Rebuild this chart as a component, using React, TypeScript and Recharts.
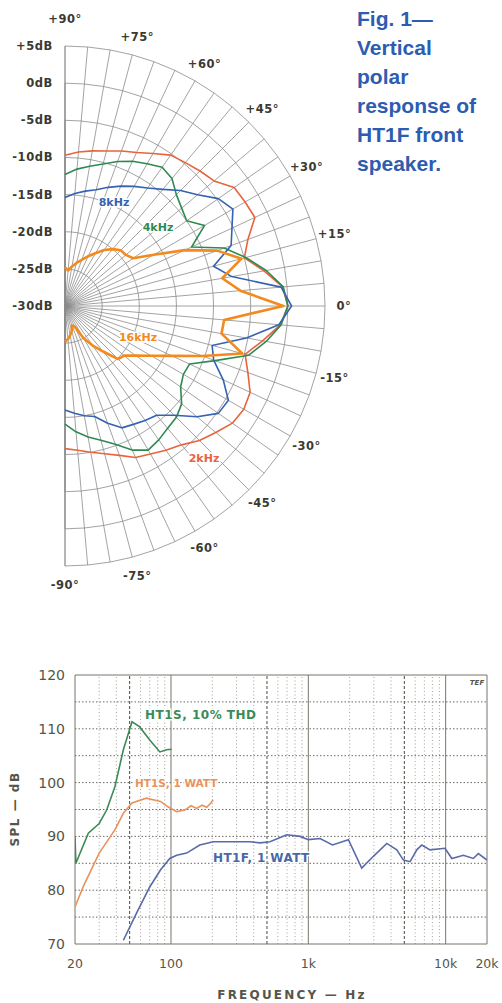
import {
  RadarChart, PolarGrid, PolarAngleAxis, PolarRadiusAxis, Radar,
  LineChart, Line, XAxis, YAxis, ReferenceLine,
} from 'recharts';

// --- polar plot (angle in degrees, level in dB re on-axis) ---
const angles = [90, 85, 80, 75, 70, 65, 60, 55, 50, 45, 40, 35, 30, 25, 20, 15, 10, 5, 0,
  -5, -10, -15, -20, -25, -30, -35, -40, -45, -50, -55, -60, -65, -70, -75, -80, -85, -90];
const db2k = [-9.7, -9.2, -8.8, -8.4, -7.8, -7.2, -6.3, -5.2, -4.8, -4.3, -3.8, -2.2, -2.0, -1.8, -3.8, -5.0, -2.8, -0.6, 0,
  -0.9, -3.0, -4.9, -3.8, -2.5, -2.2, -2.5, -3.5, -4.4, -5.6, -6.3, -7.0, -7.5, -8.6, -9.4, -10.0, -10.5, -10.8];
const db4k = [-12.3, -11.5, -10.9, -10.2, -9.3, -8.5, -7.9, -7.2, -7.6, -8.8, -9.5, -10.0, -8.3, -11.2, -7.2, -4.8, -2.5, -0.5, 0,
  -0.8, -2.5, -4.4, -8.5, -11.5, -11.6, -11.0, -9.5, -8.8, -8.5, -8.0, -7.6, -8.6, -10.2, -11.3, -12.1, -13.0, -14.1];
const db8k = [-15.4, -14.8, -14.3, -13.8, -13.0, -12.2, -11.4, -10.6, -9.5, -8.0, -6.7, -4.8, -3.9, -5.2, -6.2, -9.3, -7.2, -0.8, 0.5,
  -1.1, -5.2, -9.5, -8.7, -6.5, -4.6, -4.8, -6.8, -9.2, -10.8, -11.2, -11.6, -11.9, -13.2, -14.6, -15.0, -15.5, -16.0];
const db16k = [-24.8, -25.2, -24.6, -24.0, -23.4, -22.6, -21.8, -20.8, -20.0, -19.4, -19.3, -18.8, -16.2, -12.2, -8.2, -5.4, -8.5, -6.3, -0.6,
  -8.5, -8.6, -5.3, -10.3, -14.1, -16.6, -18.4, -19.6, -19.9, -22.0, -23.5, -25.0, -27.0, -27.2, -26.5, -26.0, -25.5, -25.2];

const polarData = angles.map((a, i) => ({ angle: a, k2: db2k[i], k4: db4k[i], k8: db8k[i], k16: db16k[i] }));

// --- frequency response ---
const thdFreq = [20, 20.3, 25, 30, 34, 39, 45, 52, 59, 70, 83, 93, 101];
const thdDb = [89.9, 85, 90.6, 92.4, 94.9, 99.2, 106.1, 111.3, 110.4, 107.9, 105.7, 106.1, 106.2];
const subFreq = [20, 23, 30, 39, 45, 52, 66, 84, 95, 110, 126, 140, 154, 168, 182, 195, 203];
const subDb = [76.9, 80.7, 86.9, 91.2, 94.3, 96.2, 97.1, 96.5, 95.5, 94.6, 94.9, 95.7, 95.2, 95.8, 95.4, 96.2, 96.8];
const frontFreq = [45, 56, 70, 84, 98, 110, 130, 162, 203, 285, 376, 445, 526, 697, 871, 1000, 1217, 1500, 1958,
  2449, 2976, 3725, 4408, 4925, 5510, 6163, 6700, 7700, 9900, 11090, 13460, 15900, 17300, 20000];
const frontDb = [70.7, 75.7, 80.6, 83.8, 85.9, 86.5, 86.9, 88.4, 89.0, 89.0, 89.0, 88.8, 89.0, 90.3, 90.0, 89.4, 89.6, 88.4, 89.4,
  84.1, 86.3, 88.7, 87.5, 85.6, 85.3, 87.5, 88.4, 87.5, 87.8, 85.9, 86.5, 85.9, 86.8, 85.6];

const thdData = thdFreq.map((f, i) => ({ f, db: thdDb[i] }));
const subData = subFreq.map((f, i) => ({ f, db: subDb[i] }));
const frontData = frontFreq.map((f, i) => ({ f, db: frontDb[i] }));

const xTicks = [20, 100, 1000, 10000, 20000];
const yTicks = [70, 80, 90, 100, 110, 120];
const hGrid = [75, 80, 85, 90, 95, 100, 105, 110, 115];
const vMinor = [30, 40, 60, 70, 80, 90, 200, 300, 400, 600, 700, 800, 900, 2000, 3000, 4000, 6000, 7000, 8000, 9000];
const vMid = [50, 500, 5000];
const vMajor = [100, 1000, 10000];

const ink = '#3a3a32';
const lblFont = 'DejaVu Sans';

const fmtHz = (v: number) => (v >= 1000 ? `${v / 1000}k` : `${v}`);

// radar curves are open polylines from +90° to -90°, not closed polygons
const openCurve = (p: any) => {
  const pts = (p.points || []).filter((q: any) => Number.isFinite(q.x) && Number.isFinite(q.y));
  const d = pts.map((q: any, i: number) => `${i ? 'L' : 'M'}${q.x},${q.y}`).join('');
  return <path d={d} fill="none" stroke={p.stroke} strokeWidth={p.strokeWidth} strokeLinejoin="round" />;
};

const renderAngleTick = (p: any) => {
  const a = p.payload.value;
  const rad = (p.payload.coordinate * Math.PI) / 180;
  const off = a === 90 ? 19 : 11;
  const x = p.x + off * Math.cos(rad);
  const y = p.y - off * Math.sin(rad);
  const txt = a > 0 ? `+${a}°` : a < 0 ? `-${-a}°` : '0°';
  return (
    <text x={x} y={y} dy="0.35em" textAnchor="middle" fontFamily={lblFont} fontWeight="bold"
      fontSize={11.5} letterSpacing={0.5} fill={ink}>{txt}</text>
  );
};

const renderDbTick = (p: any) => {
  const v = p.payload.value;
  return (
    <text x={p.x - 12} y={p.y} dy="0.35em" textAnchor="end" fontFamily={lblFont} fontWeight="bold"
      fontSize={11.5} letterSpacing={0.6} fill={ink}>{v > 0 ? `+${v}dB` : `${v}dB`}</text>
  );
};

const curveLabel = (x: number, y: number, t: string, c: string) => (
  <text x={x} y={y} dy="0.35em" textAnchor="middle" fontFamily={lblFont} fontWeight="bold" fontSize={11}
    fill={c} stroke="#fff" strokeWidth={3} paintOrder="stroke">{t}</text>
);

export default function App() {
  return (
    <div style={{ position: 'relative', width: 502, height: 1003, background: '#fff' }}>
      <style>{'body{margin:0}'}</style>

      <div style={{ position: 'absolute', left: 0, top: 0 }}>
        <RadarChart width={502} height={600} data={polarData} cx={65} cy={306} outerRadius={260}
          startAngle={-90} endAngle={90} margin={{ top: 0, right: 0, bottom: 0, left: 0 }}>
          <PolarGrid gridType="polygon" polarAngles={angles} stroke="#8c8c8c" strokeWidth={0.8} />
          <PolarAngleAxis dataKey="angle" type="number" scale="linear" domain={[-90, 90]} tickCount={13}
            tick={renderAngleTick} tickLine={false} axisLine={false} />
          <PolarRadiusAxis angle={90} type="number" domain={[-30, 5]} tickCount={8}
            tick={renderDbTick} axisLine={false} tickLine={false} />
          <Radar dataKey="k2" stroke="#e8643c" strokeWidth={1.6} fill="none" shape={openCurve} dot={false} isAnimationActive={false} />
          <Radar dataKey="k4" stroke="#2f8a52" strokeWidth={1.6} fill="none" shape={openCurve} dot={false} isAnimationActive={false} />
          <Radar dataKey="k8" stroke="#3562b2" strokeWidth={1.6} fill="none" shape={openCurve} dot={false} isAnimationActive={false} />
          <Radar dataKey="k16" stroke="#f28a1e" strokeWidth={2.6} fill="none" shape={openCurve} dot={false} isAnimationActive={false} />
        </RadarChart>
      </div>

      <svg width={502} height={600} style={{ position: 'absolute', left: 0, top: 0, pointerEvents: 'none' }}>
        {curveLabel(114, 202, '8kHz', '#3562b2')}
        {curveLabel(158, 227, '4kHz', '#2f8a52')}
        {curveLabel(138, 337, '16kHz', '#f28a1e')}
        {curveLabel(204, 458, '2kHz', '#e8643c')}
      </svg>

      <div style={{
        position: 'absolute', left: 357, top: 4, fontFamily: 'Liberation Sans', fontWeight: 'bold',
        fontSize: 21, lineHeight: '29px', color: '#2d5cb0',
      }}>
        Fig. 1—<br />Vertical<br />polar<br />response of<br />HT1F front<br />speaker.
      </div>

      <div style={{ position: 'absolute', left: 0, top: 660 }}>
        <LineChart width={502} height={343} margin={{ top: 15, right: 15, bottom: 29, left: 8 }}>
          <XAxis dataKey="f" type="number" scale="log" domain={[20, 20000]} ticks={xTicks} tickFormatter={fmtHz}
            interval={0} allowDataOverflow axisLine={false} tickLine={false} tickSize={6} tickMargin={9} height={30}
            tick={{ fontSize: 12.5, fill: '#55554a', fontFamily: lblFont }} />
          <YAxis type="number" domain={[70, 120]} ticks={yTicks} axisLine={false} tickLine={false} width={67}
            tickSize={6} tickMargin={4} tick={{ fontSize: 14, fill: '#55554a', fontFamily: lblFont }} />
          {hGrid.map((v) => <ReferenceLine key={`h${v}`} y={v} stroke="#5a5a52" strokeWidth={0.9} strokeDasharray="1.5 2" />)}
          {vMinor.map((v) => <ReferenceLine key={`m${v}`} x={v} stroke="#8a8a80" strokeWidth={0.8} strokeDasharray="1 2.5" />)}
          {vMid.map((v) => <ReferenceLine key={`d${v}`} x={v} stroke="#4a4a42" strokeWidth={1} strokeDasharray="3 2" />)}
          {vMajor.map((v) => <ReferenceLine key={`s${v}`} x={v} stroke="#77776c" strokeWidth={1} />)}
          <ReferenceLine x={20} stroke="#77776c" strokeWidth={1} />
          <ReferenceLine x={20000} stroke="#77776c" strokeWidth={1} />
          <ReferenceLine y={70} stroke="#77776c" strokeWidth={1} />
          <ReferenceLine y={120} stroke="#77776c" strokeWidth={1} />
          <Line data={thdData} dataKey="db" stroke="#3d8a58" strokeWidth={1.6} dot={false} isAnimationActive={false} />
          <Line data={subData} dataKey="db" stroke="#e8935e" strokeWidth={1.6} dot={false} isAnimationActive={false} />
          <Line data={frontData} dataKey="db" stroke="#5a6aa8" strokeWidth={1.6} dot={false} isAnimationActive={false} />
        </LineChart>
      </div>

      <svg width={502} height={343} style={{ position: 'absolute', left: 0, top: 660, pointerEvents: 'none' }}>
        <text x={145} y={55} dy="0.35em" fontFamily={lblFont} fontWeight="bold" fontSize={12} letterSpacing={0.5}
          fill="#3d8a58" stroke="#fff" strokeWidth={3} paintOrder="stroke">HT1S, 10% THD</text>
        <text x={135} y={123} dy="0.35em" fontFamily={lblFont} fontWeight="bold" fontSize={10.5}
          fill="#e8935e" stroke="#fff" strokeWidth={3} paintOrder="stroke">HT1S, 1 WATT</text>
        <text x={213} y={198} dy="0.35em" fontFamily={lblFont} fontWeight="bold" fontSize={12} letterSpacing={0.4}
          fill="#4a68a8" stroke="#fff" strokeWidth={3} paintOrder="stroke">HT1F, 1 WATT</text>
        <text x={477} y={25} textAnchor="middle" fontFamily={lblFont} fontStyle="italic" fontWeight="bold"
          fontSize={7} fill="#55554a">TEF</text>
        <text x={15} y={149} textAnchor="middle" dy="0.35em" transform="rotate(-90 15 149)" fontFamily={lblFont}
          fontWeight="bold" fontSize={12} letterSpacing={1.5} fill="#55554a">SPL — dB</text>
        <text x={292} y={335} textAnchor="middle" dy="0.35em" fontFamily={lblFont} fontWeight="bold" fontSize={12}
          letterSpacing={2.2} fill="#55554a">FREQUENCY — Hz</text>
      </svg>
    </div>
  );
}
